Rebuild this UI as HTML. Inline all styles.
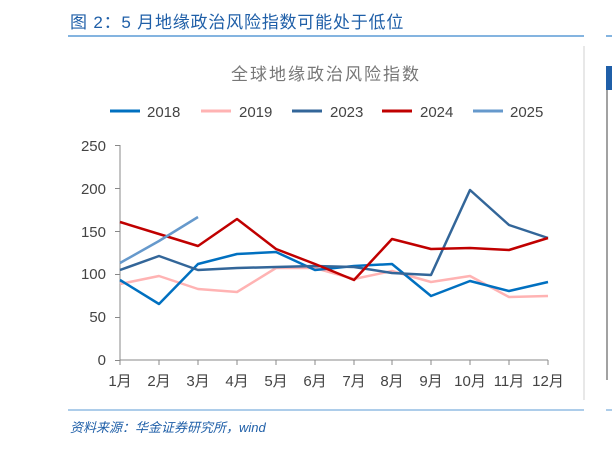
<!DOCTYPE html><html><head><meta charset="utf-8"><style>body{margin:0;background:#fff;width:612px;height:448px;overflow:hidden;font-family:"Liberation Sans","Noto Sans CJK SC",sans-serif}</style></head><body>
<svg width="612" height="448" xmlns="http://www.w3.org/2000/svg" font-family="Liberation Sans, Noto Sans CJK SC, sans-serif">
<text x="70" y="28" font-size="17" fill="#1f5fa8" letter-spacing="0.8">图 2：5 月地缘政治风险指数可能处于低位</text>
<line x1="68" y1="36" x2="584" y2="36" stroke="#5b9bd5" stroke-width="1.5"/>
<line x1="584" y1="46" x2="584" y2="400" stroke="#d0d0d0"/>
<line x1="606" y1="36" x2="612" y2="36" stroke="#5b9bd5" stroke-width="1.5"/>
<rect x="606" y="66" width="6" height="24" fill="#1f5fa8"/>
<line x1="607" y1="90" x2="607" y2="380" stroke="#444"/>
<text x="326" y="80" font-size="17" fill="#777" text-anchor="middle" letter-spacing="2">全球地缘政治风险指数</text>
<g font-size="15" fill="#444" stroke-width="3">
<line x1="110" y1="111" x2="140" y2="111" stroke="#0070c0"/><text x="147" y="117">2018</text>
<line x1="201" y1="111" x2="231" y2="111" stroke="#ffb3b3"/><text x="239" y="117">2019</text>
<line x1="292" y1="111" x2="322" y2="111" stroke="#336699"/><text x="330" y="117">2023</text>
<line x1="382" y1="111" x2="412" y2="111" stroke="#c00000"/><text x="420" y="117">2024</text>
<line x1="473" y1="111" x2="503" y2="111" stroke="#6699cc"/><text x="510" y="117">2025</text>
</g>
<g font-size="15" fill="#444" text-anchor="end">
<text x="106" y="365">0</text><text x="106" y="322">50</text><text x="106" y="279">100</text><text x="106" y="237">150</text><text x="106" y="194">200</text><text x="106" y="151">250</text>
</g>
<g stroke="#888" fill="none">
<path d="M120 145V360H548"/>
<path d="M115 360.5H120M115 317.5H120M115 274.5H120M115 231.5H120M115 188.5H120M115 145.5H120"/>
<path d="M120 360v5M159 360v5M198 360v5M237 360v5M276 360v5M315 360v5M354 360v5M392 360v5M431 360v5M470 360v5M509 360v5M548 360v5"/>
</g>
<g font-size="15" fill="#444" text-anchor="middle">
<text x="120" y="386">1月</text><text x="159" y="386">2月</text><text x="198" y="386">3月</text><text x="237" y="386">4月</text><text x="276" y="386">5月</text><text x="315" y="386">6月</text><text x="354" y="386">7月</text><text x="392" y="386">8月</text><text x="431" y="386">9月</text><text x="470" y="386">10月</text><text x="509" y="386">11月</text><text x="548" y="386">12月</text>
</g>
<g fill="none" stroke-width="2.5" stroke-linejoin="round">
<polyline stroke="#ffb3b3" points="120,284 159,276 198,289 237,292 276,268 315,268 354,279 392,271 431,282 470,276 509,297 548,296"/>
<polyline stroke="#0070c0" points="120,280 159,304 198,264 237,254 276,252 315,270 354,266 392,264 431,296 470,281 509,291 548,282"/>
<polyline stroke="#336699" points="120,270 159,256 198,270 237,268 276,267 315,266 354,267 392,273 431,275 470,190 509,225 548,238"/>
<polyline stroke="#c00000" points="120,222 159,234 198,246 237,219 276,249 315,264 354,280 392,239 431,249 470,248 509,250 548,238"/>
<polyline stroke="#6699cc" points="120,263 159,241 198,217"/>
</g>
<line x1="68" y1="410" x2="584" y2="410" stroke="#5b9bd5" stroke-width="1"/>
<line x1="606" y1="410" x2="612" y2="410" stroke="#5b9bd5" stroke-width="1"/>
<text x="70" y="432" font-size="13" font-style="italic" fill="#1f5fa8">资料来源：华金证券研究所，wind</text>
</svg></body></html>
